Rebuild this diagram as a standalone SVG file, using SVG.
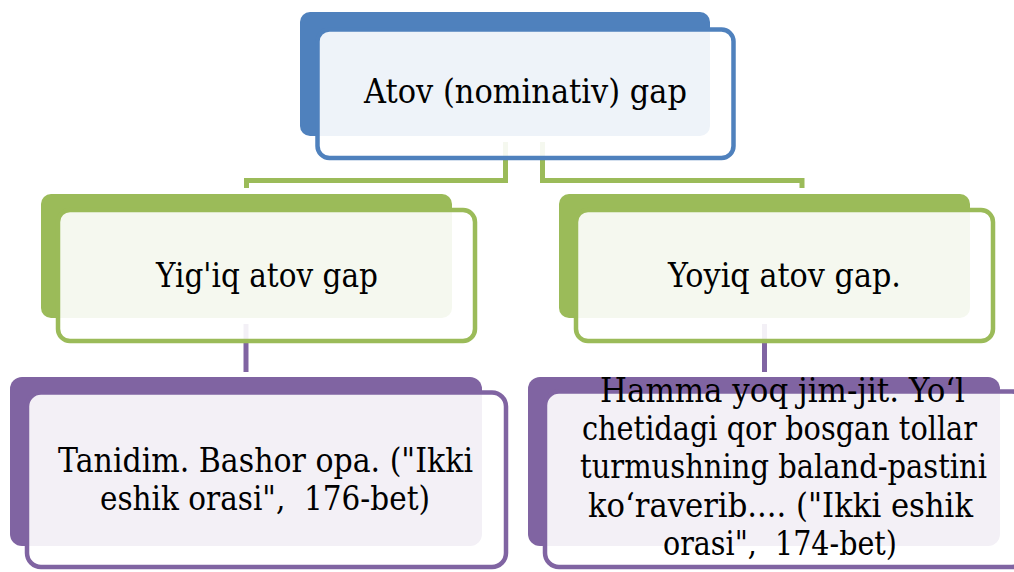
<svg xmlns="http://www.w3.org/2000/svg" width="1014" height="572" viewBox="0 0 1014 572">
<style>
.t{font-family:'DejaVu Serif','Liberation Serif',serif;font-size:33px;fill:#000;text-anchor:middle;white-space:pre}
.front{fill:#fff;fill-opacity:0.9;stroke-width:4.5}
.b{fill:#4F81BD}.bs{stroke:#4F81BD}
.g{fill:#9BBB59}.gs{stroke:#9BBB59}
.p{fill:#8064A2}.ps{stroke:#8064A2}
.conn{fill:none;stroke-width:5}
</style>
<rect width="1014" height="572" fill="#fff"/>
<g id="connectors">
<path class="conn gs" d="M246.5,188 V180.5 H505.5 V142"/>
<path class="conn gs" d="M802,188 V180.5 H542.5 V142"/>
<path class="conn ps" d="M246,324 V372"/>
<path class="conn ps" d="M764.5,324 V372"/>
</g>
<g id="node-top">
<rect class="b" x="300" y="12" width="410" height="124" rx="10"/>
<rect class="front bs" x="317.5" y="29.5" width="416" height="128.5" rx="12"/>
<text class="t" x="525.5" y="103" textLength="323" lengthAdjust="spacingAndGlyphs">Atov (nominativ) gap</text>
</g>
<g id="node-yigiq">
<rect class="g" x="41" y="194" width="411" height="124" rx="10"/>
<rect class="front gs" x="58" y="210" width="417" height="131" rx="12"/>
<text class="t" x="267" y="287" textLength="222" lengthAdjust="spacingAndGlyphs">Yig'iq atov gap</text>
</g>
<g id="node-yoyiq">
<rect class="g" x="559" y="194" width="411" height="124" rx="10"/>
<rect class="front gs" x="576" y="210" width="417" height="131" rx="12"/>
<text class="t" x="784.5" y="287" textLength="233" lengthAdjust="spacingAndGlyphs">Yoyiq atov gap.</text>
</g>
<g id="node-example1">
<rect class="p" x="10" y="377" width="472" height="169" rx="12"/>
<rect class="front ps" x="27" y="392.5" width="479" height="174.5" rx="14"/>
<text class="t" x="265.5" y="472" textLength="415" lengthAdjust="spacingAndGlyphs">Tanidim. Bashor opa. ("Ikki</text>
<text class="t" x="265" y="510" textLength="330" lengthAdjust="spacingAndGlyphs">eshik orasi",  176-bet)</text>
</g>
<g id="node-example2">
<rect class="p" x="528" y="377" width="472" height="169" rx="12"/>
<rect class="front ps" x="545" y="391.5" width="481" height="175.5" rx="14"/>
<text class="t" x="782.5" y="402" textLength="365" lengthAdjust="spacingAndGlyphs">Hamma yoq jim-jit. Yo‘l</text>
<text class="t" x="779.5" y="440" textLength="395" lengthAdjust="spacingAndGlyphs">chetidagi qor bosgan tollar</text>
<text class="t" x="783.5" y="478" textLength="407" lengthAdjust="spacingAndGlyphs">turmushning baland-pastini</text>
<text class="t" x="780.5" y="517" textLength="385" lengthAdjust="spacingAndGlyphs">ko‘raverib.... ("Ikki eshik</text>
<text class="t" x="780" y="555" textLength="234" lengthAdjust="spacingAndGlyphs">orasi",  174-bet)</text>
</g>
</svg>
